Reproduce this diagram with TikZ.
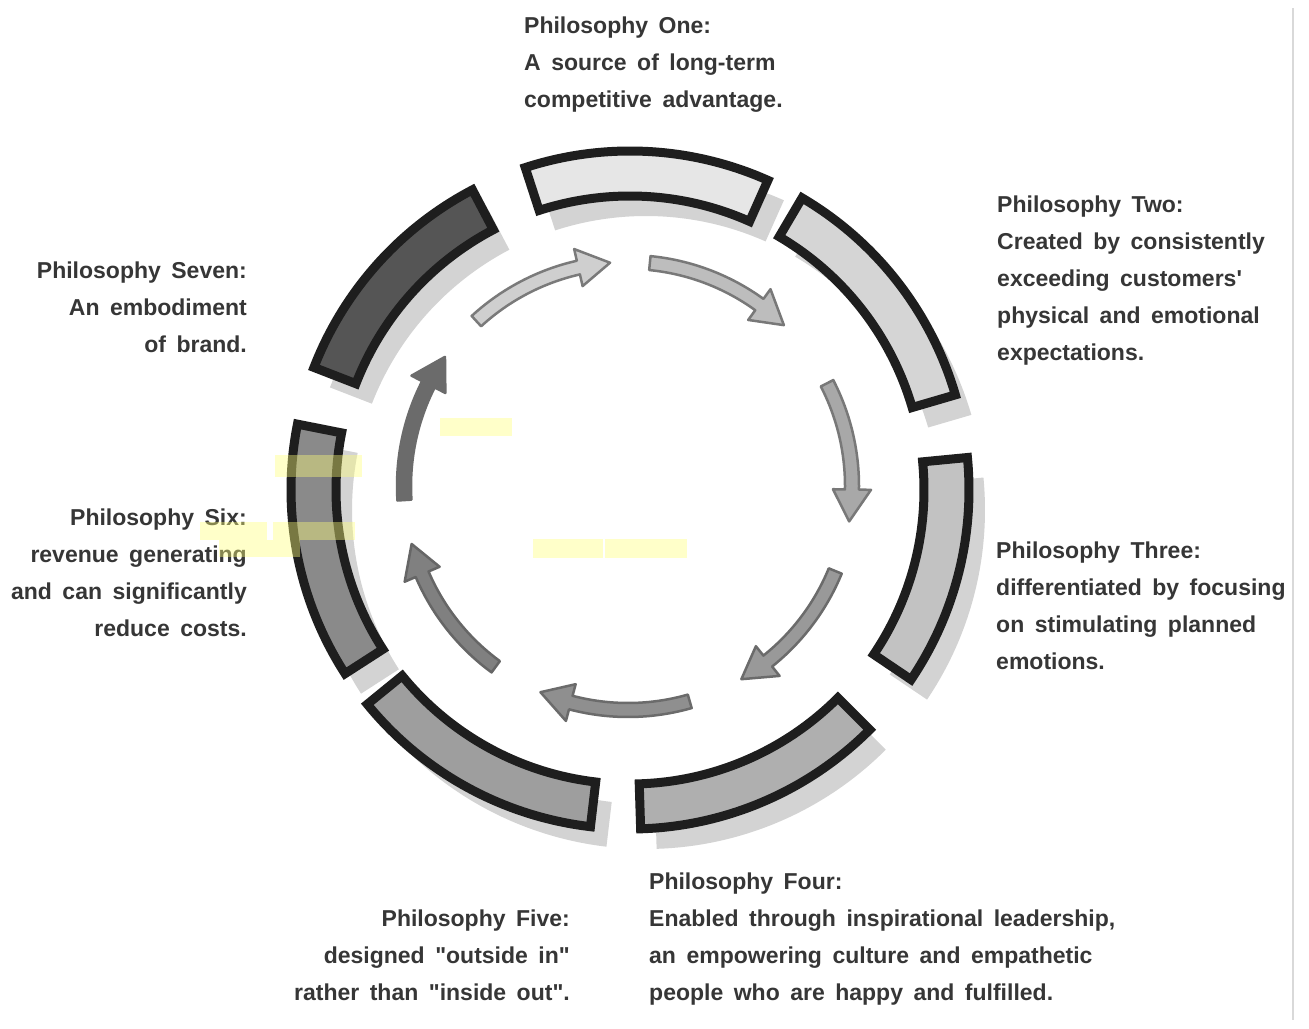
\documentclass[tikz,border=0pt]{standalone}
\usepackage{fontspec}
\setmainfont{Liberation Sans}[Ligatures=TeXOff]
\definecolor{segone}{HTML}{E6E6E6}
\definecolor{segtwo}{HTML}{D5D5D5}
\definecolor{segthree}{HTML}{C2C2C2}
\definecolor{segfour}{HTML}{AFAFAF}
\definecolor{segfive}{HTML}{9E9E9E}
\definecolor{segsix}{HTML}{8A8A8A}
\definecolor{segseven}{HTML}{555555}
\definecolor{segline}{HTML}{1E1E1E}
\definecolor{shadowgray}{HTML}{D3D3D3}
\definecolor{txtgray}{HTML}{363636}
\definecolor{markyellow}{RGB}{255,255,120}
% label type: bold sans with wide word spaces
\newcommand{\labelfont}{\fontsize{23}{37}\selectfont\bfseries\spaceskip 10.5pt\relax}
\tikzset{
  ringseg/.style={draw=segline, line width=9pt, line join=miter},
  ringshadow/.style={fill=shadowgray},
  cycarrow/.style={line width=2.5pt, line join=round},
  label/.style={font=\labelfont, text=txtgray, inner sep=0pt},
  highlight/.style={fill=markyellow, fill opacity=0.4},
  rimline/.style={draw=black!15, line width=2.5pt}
}
\def\Ro{339}
\def\Ri{294}
% curved block arrow: start angle, head-base angle, tip angle, fill, outline
\newcommand{\cyclearrow}[5]{%
  \filldraw[cycarrow, fill=#4, draw=#5]
    (#1:231) arc[start angle=#1, end angle=#2, radius=231]
    -- (#2:243) -- (#3:224) -- (#2:205) -- (#2:217)
    arc[start angle=#2, end angle=#1, radius=217] -- cycle;}
\begin{document}
\begin{tikzpicture}[x=1pt, y=1pt]
\useasboundingbox (0,0) rectangle (1309,-1028);
\fill[white] (0,0) rectangle (1309,-1028);
\draw[rimline] (1293,-8) -- (1293,-1020);

% outer ring of seven segments
\begin{scope}[shift={(630,-490)}]
  \begin{scope}[shift={(16,-20)}]
    \foreach \a/\b in {108/66, 59.5/16.3, 5.5/-34, -45/-88.2, -96.7/-140.8, -147.2/-191.2, 158.8/117.7}
      \fill[ringshadow] (\a:\Ro) arc[start angle=\a, end angle=\b, radius=\Ro]
        -- (\b:\Ri) arc[start angle=\b, end angle=\a, radius=\Ri] -- cycle;
  \end{scope}
  \foreach \a/\b/\c in {108/66/segone, 59.5/16.3/segtwo, 5.5/-34/segthree, -45/-88.2/segfour, -96.7/-140.8/segfive, -147.2/-191.2/segsix, 158.8/117.7/segseven}
    \draw[ringseg, fill=\c] (\a:\Ro) arc[start angle=\a, end angle=\b, radius=\Ro]
      -- (\b:\Ri) arc[start angle=\b, end angle=\a, radius=\Ri] -- cycle;
\end{scope}

% inner cycle of arrows
\begin{scope}[shift={(628,-486)}]
  \cyclearrow{132.6}{102.8}{94.6}{black!19}{black!52}
  \cyclearrow{84.4}{54.1}{45.9}{black!26}{black!53}
  \cyclearrow{27.3}{-0.9}{-9.1}{black!34}{black!53}
  \cyclearrow{-22.3}{-51.4}{-59.6}{black!40}{black!58}
  \cyclearrow{-74}{-104.8}{-113}{black!44}{black!58}
  \cyclearrow{-126.2}{-156.8}{-165}{black!50}{black!60}
  \cyclearrow{183.6}{153}{144.8}{black!58}{black!58}
\end{scope}

% labels
\node[label, anchor=base west] (one) at (524,-33)
  {\begin{tabular}[t]{@{}l@{}}Philosophy One:\\A source of long-term\\competitive advantage.\end{tabular}};
\node[label, anchor=base west] (two) at (997,-212)
  {\begin{tabular}[t]{@{}l@{}}Philosophy Two:\\Created by consistently\\exceeding customers'\\physical and emotional\\expectations.\end{tabular}};
\node[label, anchor=base west] (three) at (996,-558)
  {\begin{tabular}[t]{@{}l@{}}Philosophy Three:\\differentiated by focusing\\on stimulating planned\\emotions.\end{tabular}};
\node[label, anchor=base west] (four) at (649,-889)
  {\begin{tabular}[t]{@{}l@{}}Philosophy Four:\\Enabled through inspirational leadership,\\an empowering culture and empathetic\\people who are happy and fulfilled.\end{tabular}};
\node[label, anchor=base east] (five) at (570,-926)
  {\begin{tabular}[t]{@{}r@{}}Philosophy Five:\\designed "outside in"\\rather than "inside out".\end{tabular}};
\node[label, anchor=base east] (six) at (247,-525)
  {\begin{tabular}[t]{@{}r@{}}Philosophy Six:\\revenue generating\\and can significantly\\reduce costs.\end{tabular}};
\node[label, anchor=base east] (seven) at (247,-278)
  {\begin{tabular}[t]{@{}r@{}}Philosophy Seven:\\An embodiment\\of brand.\end{tabular}};

% translucent marker strips
\fill[highlight] (440,-418) rectangle (512,-436);
\fill[highlight] (275,-455) rectangle (362,-477);
\fill[highlight] (200,-522) rectangle (267,-540);
\fill[highlight] (273,-522) rectangle (355,-540);
\fill[highlight] (219,-540) rectangle (300,-557);
\fill[highlight] (533,-539) rectangle (603,-558);
\fill[highlight] (605,-539) rectangle (687,-558);
\end{tikzpicture}
\end{document}
